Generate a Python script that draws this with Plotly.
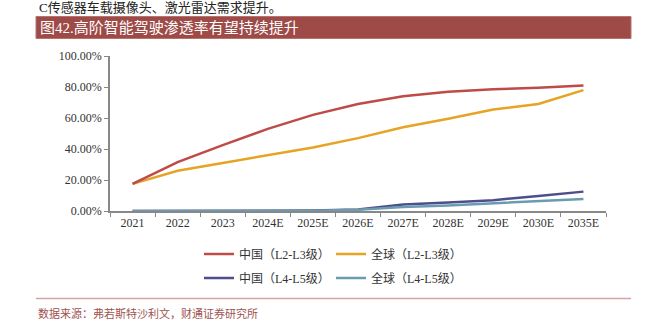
import plotly.graph_objects as go

years = ["2021", "2022", "2023", "2024E", "2025E", "2026E", "2027E", "2028E", "2029E", "2030E", "2035E"]
cn_l2l3 = [17.5, 31.5, 42.5, 53, 62, 69, 74, 77, 78.5, 79.5, 81]
gl_l2l3 = [17.5, 26, 31, 36, 41, 47, 54, 59.5, 65.5, 69, 78]
cn_l4l5 = [0, 0, 0, 0, 0.3, 1, 4.2, 5.5, 7, 9.7, 12.5]
gl_l4l5 = [0, 0, 0, 0, 0.2, 0.8, 2.6, 3.6, 5, 6.2, 7.7]

names = ["中国（L2-L3级）", "全球（L2-L3级）", "中国（L4-L5级）", "全球（L4-L5级）"]
colors = ["#BE4B48", "#E6A324", "#4E4E8E", "#6B9BB0"]
series = [cn_l2l3, gl_l2l3, cn_l4l5, gl_l4l5]
legends = ["legend", "legend", "legend2", "legend2"]

W, H = 648, 322
L, R, T, B = 110, 606, 56, 211

def px(x):
    return (x - L) / (R - L)

def py(y):
    return (B - y) / (B - T)

serif = "Liberation Serif, Noto Sans CJK SC, serif"
cjk = "Liberation Serif, Noto Sans CJK SC, sans-serif"

fig = go.Figure()
order = [2, 3, 1, 0]
for i in order:
    fig.add_trace(go.Scatter(
        x=years, y=series[i], name=names[i], mode="lines",
        line=dict(color=colors[i], width=2.5),
        legend=legends[i], legendrank=i,
    ))

fig.update_layout(
    width=W, height=H,
    margin=dict(l=L, r=W - R, t=T, b=H - B, pad=0),
    paper_bgcolor="white", plot_bgcolor="white",
    font=dict(family=serif, size=12, color="#333333"),
    showlegend=True,
    legend=dict(orientation="h", x=px(199), y=py(254), xanchor="left", yanchor="middle",
                font=dict(family=cjk, size=12, color="#333333"), entrywidth=87,
                traceorder="normal", bgcolor="rgba(0,0,0,0)"),
    legend2=dict(orientation="h", x=px(199), y=py(278), xanchor="left", yanchor="middle",
                 font=dict(family=cjk, size=12, color="#333333"), entrywidth=87,
                 traceorder="normal", bgcolor="rgba(0,0,0,0)"),
    xaxis=dict(type="category", range=[-0.5, len(years) - 0.5],
               tickson="boundaries", ticks="outside", ticklen=4,
               tickcolor="#888888", showline=True, linecolor="#888888", linewidth=1.5,
               showgrid=False, zeroline=False,
               tickfont=dict(family=serif, size=12, color="#333333")),
    yaxis=dict(range=[0, 100], dtick=20, tickformat=".2f", ticksuffix="%",
               ticks="outside", ticklen=4, tickcolor="#888888", showline=True,
               linecolor="#888888", linewidth=1.5, showgrid=False, zeroline=False,
               tickfont=dict(family=serif, size=12, color="#333333")),
)

# title bar
fig.add_shape(type="rect", xref="paper", yref="paper",
              x0=px(36), x1=px(631), y0=py(38.5), y1=py(16.5),
              fillcolor="#9E4A47", line=dict(color="#B87370", width=1), layer="below")
fig.add_annotation(xref="paper", yref="paper", x=px(38), y=py(27.5),
                   xanchor="left", yanchor="middle", showarrow=False,
                   text="图42.高阶智能驾驶渗透率有望持续提升",
                   font=dict(family=cjk, size=15, color="white"))
# text from the previous paragraph
fig.add_annotation(xref="paper", yref="paper", x=px(37), y=py(7.5),
                   xanchor="left", yanchor="middle", showarrow=False,
                   text="C传感器车载摄像头、激光雷达需求提升。",
                   font=dict(family=cjk, size=13, color="#222222"))
# bottom separator and source
fig.add_shape(type="line", xref="paper", yref="paper",
              x0=px(36), x1=px(631), y0=py(298.5), y1=py(298.5),
              line=dict(color="#D4A3A3", width=1.5))
fig.add_annotation(xref="paper", yref="paper", x=px(36), y=py(313),
                   xanchor="left", yanchor="middle", showarrow=False,
                   text="数据来源：弗若斯特沙利文，财通证券研究所",
                   font=dict(family=cjk, size=11, color="#A0524F"))

fig.write_html("out.html")
